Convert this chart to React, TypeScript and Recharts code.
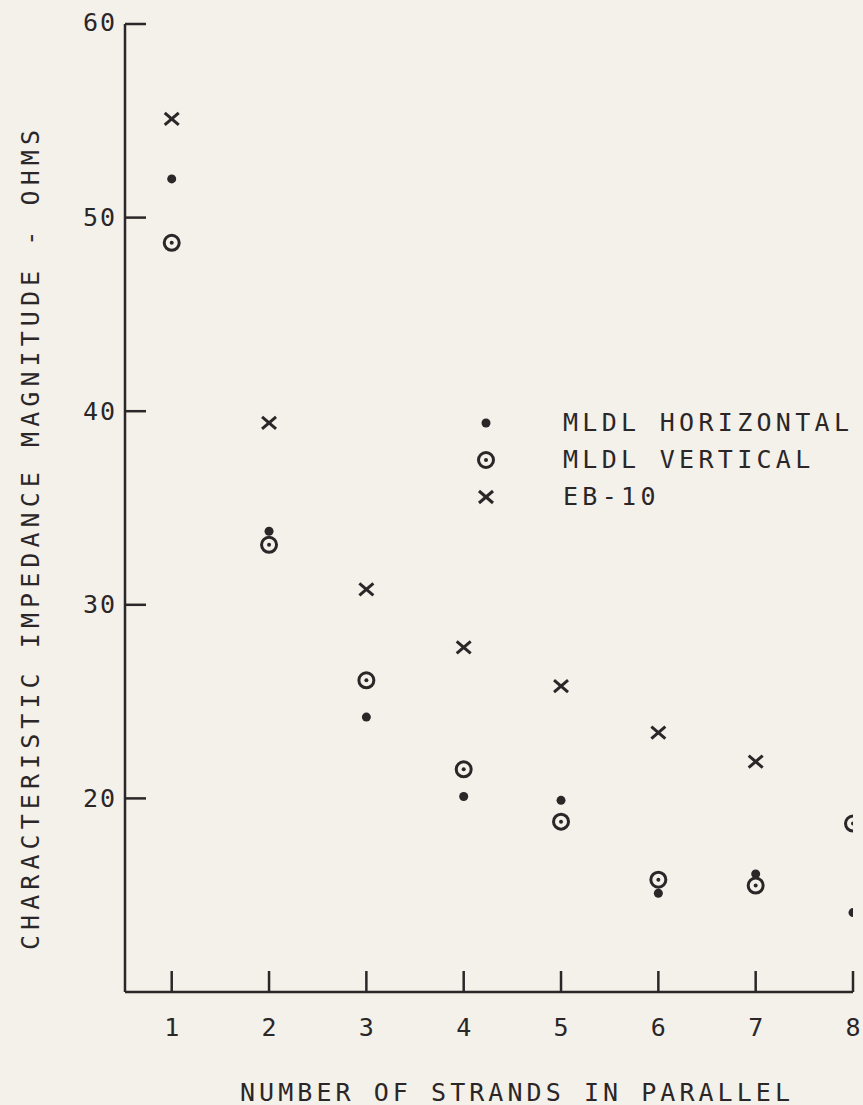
import React from "react";
import { ScatterChart, Scatter, XAxis, YAxis, Label } from "recharts";

const strands = [1, 2, 3, 4, 5, 6, 7, 8];
const mldlHorizontal = [52.0, 33.8, 24.2, 20.1, 19.9, 15.1, 16.1, 14.1];
const mldlVertical = [48.7, 33.1, 26.1, 21.5, 18.8, 15.8, 15.5, 18.7];
const eb10 = [55.1, 39.4, 30.8, 27.8, 25.8, 23.4, 21.9];
const yTicks = [20, 30, 40, 50, 60];
const seriesNames = ["MLDL HORIZONTAL", "MLDL VERTICAL", "EB-10"];

const INK = "#2b2628";
const BG = "#f3f1ea";
const FONT = "'DejaVu Sans Mono', monospace";
const TICK_MARGIN = 10;
const TICK_LEN = 21;

const toPoints = (vals: number[]) => vals.map((v, i) => ({ x: strands[i], y: v }));

// marker shapes
const DotShape = (p: any) => <circle cx={p.cx} cy={p.cy} r={4.5} fill={INK} />;
const RingShape = (p: any) => (
  <g>
    <circle cx={p.cx} cy={p.cy} r={7.5} fill="none" stroke={INK} strokeWidth={3} />
    <circle cx={p.cx} cy={p.cy} r={2} fill={INK} />
  </g>
);
const CrossShape = (p: any) => (
  <g stroke={INK} strokeWidth={3}>
    <line x1={p.cx - 7} y1={p.cy - 6} x2={p.cx + 7} y2={p.cy + 6} />
    <line x1={p.cx - 7} y1={p.cy + 6} x2={p.cx + 7} y2={p.cy - 6} />
  </g>
);
const shapes = [DotShape, RingShape, CrossShape];

const YTick = (p: any) => {
  const axisX = p.x + TICK_MARGIN;
  return (
    <g>
      <line x1={axisX} y1={p.y} x2={axisX + TICK_LEN} y2={p.y} stroke={INK} strokeWidth={2.5} />
      <text x={axisX - 8} y={p.y - (p.payload.value === 60 ? 2 : 0)} textAnchor="end" dominantBaseline="central"
        fontFamily={FONT} fontSize={25} fill={INK} letterSpacing={2}>
        {p.payload.value}
      </text>
    </g>
  );
};

const XTick = (p: any) => {
  const axisY = p.y - TICK_MARGIN;
  return (
    <g>
      <line x1={p.x} y1={axisY} x2={p.x} y2={axisY - TICK_LEN} stroke={INK} strokeWidth={2.5} />
      <text x={p.x} y={axisY + 35} textAnchor="middle" dominantBaseline="central"
        fontFamily={FONT} fontSize={25} fill={INK}>
        {p.payload.value}
      </text>
    </g>
  );
};

const LegendBox = () => (
  <div style={{ position: "absolute", left: 476, top: 404, fontFamily: FONT, fontSize: 25, color: INK }}>
    {seriesNames.map((name, i) => {
      const Shape = shapes[i];
      return (
        <div key={name} style={{ display: "flex", alignItems: "center", height: 37 }}>
          <svg width={20} height={20} style={{ marginRight: 67 }}>
            <Shape cx={10} cy={10} />
          </svg>
          <span style={{ letterSpacing: 4.3 }}>{name}</span>
        </div>
      );
    })}
  </div>
);

export default function App() {
  return (
    <div style={{ position: "absolute", left: 0, top: 0, width: 863, height: 1105, background: BG, overflow: "hidden" }}>
      <ScatterChart width={863} height={1105} margin={{ top: 24, right: 10, bottom: 53, left: 65 }}>
        <XAxis type="number" dataKey="x" domain={[0.52, 8]} ticks={strands} allowDataOverflow
          height={60} tickSize={0} tickMargin={TICK_MARGIN} tick={<XTick />}
          axisLine={{ stroke: INK, strokeWidth: 2.5 }}>
          <Label content={() => (
            <text x={515} y={1092} textAnchor="middle" dominantBaseline="central" fontFamily={FONT}
              fontSize={25} fill={INK} textLength={550} lengthAdjust="spacing">
              NUMBER OF STRANDS IN PARALLEL
            </text>
          )} />
        </XAxis>
        <YAxis type="number" dataKey="y" domain={[10, 60]} ticks={yTicks} allowDataOverflow
          width={60} tickSize={0} tickMargin={TICK_MARGIN} tick={<YTick />}
          axisLine={{ stroke: INK, strokeWidth: 2.5 }}>
          <Label content={() => (
            <text x={30} y={540} textAnchor="middle" dominantBaseline="central" fontFamily={FONT}
              fontSize={25} fill={INK} textLength={820} lengthAdjust="spacing" transform="rotate(-90 30 540)">
              CHARACTERISTIC IMPEDANCE MAGNITUDE - OHMS
            </text>
          )} />
        </YAxis>
        <Scatter name={seriesNames[0]} data={toPoints(mldlHorizontal)} shape={DotShape} isAnimationActive={false} />
        <Scatter name={seriesNames[1]} data={toPoints(mldlVertical)} shape={RingShape} isAnimationActive={false} />
        <Scatter name={seriesNames[2]} data={toPoints(eb10)} shape={CrossShape} isAnimationActive={false} />
      </ScatterChart>
      <LegendBox />
    </div>
  );
}
